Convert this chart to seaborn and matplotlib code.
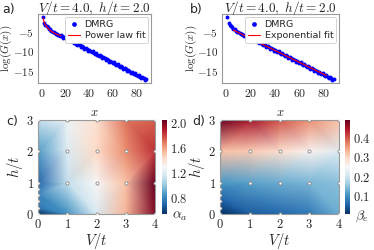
import numpy as np
import pandas as pd
import matplotlib
matplotlib.use("Agg")
import matplotlib.pyplot as plt
import matplotlib.tri as mtri
import seaborn as sns

# ---------------- data ----------------
x_sites = list(range(1, 89))
logG = [-1.3, -2.9, -3.2, -3.5, -3.9, -4.3, -4.4, -4.8, -5.0, -5.1,
        -5.4, -5.6, -5.6, -5.9, -6.0, -5.80, -6.16, -6.51, -6.27, -6.62,
        -6.98, -6.73, -7.09, -7.44, -7.20, -7.55, -7.91, -7.66, -8.02, -8.37,
        -8.13, -8.48, -8.84, -8.59, -8.95, -9.30, -9.06, -9.41, -9.77, -9.52,
        -9.88, -10.23, -9.99, -10.34, -10.70, -10.45, -10.81, -11.16, -10.92, -11.27,
        -11.63, -11.38, -11.74, -12.09, -11.85, -12.20, -12.56, -12.31, -12.67, -13.02,
        -12.78, -13.13, -13.49, -13.24, -13.60, -13.95, -13.71, -14.06, -14.42, -14.17,
        -14.53, -14.88, -14.64, -14.99, -15.35, -15.10, -15.46, -15.81, -15.57, -15.92,
        -16.28, -16.03, -16.39, -16.74, -16.50, -16.85, -17.21, -17.05]

pow_x = [1, 1.5, 2, 3, 4, 5, 6, 8, 10, 12, 14, 16]
pow_y = [-1.5, -2.2, -2.7, -3.3, -3.8, -4.1, -4.4, -4.9, -5.3, -5.6, -5.8, -6.0]

exp_x = [6, 82]
exp_y = [-4.6, -16.1]

# heatmap sample points
grid_V = [0, 1, 2, 3, 4, 0, 1, 2, 3, 4, 0, 1, 2, 3, 4, 0, 1, 2, 3, 4, 0, 0, 0, 0]
grid_h = [0, 0, 0, 0, 0, 1, 1, 1, 1, 1, 2, 2, 2, 2, 2, 3, 3, 3, 3, 3, 0.2, 0.4, 0.6, 0.8]
alpha_a = [0.55, 0.85, 1.18, 1.55, 2.00,
           0.70, 1.12, 1.30, 1.52, 2.05,
           0.88, 1.20, 1.45, 1.65, 1.85,
           1.12, 1.26, 1.42, 1.70, 1.75,
           0.75, 0.80, 0.80, 0.76]
beta_e = [0.01, 0.05, 0.06, 0.08, 0.13,
          0.11, 0.12, 0.13, 0.14, 0.15,
          0.32, 0.31, 0.29, 0.26, 0.22,
          0.49, 0.45, 0.40, 0.36, 0.32,
          0.03, 0.05, 0.07, 0.09]

title_txt = r"$V/t=4.0,\ h/t=2.0$"

# ---------------- style ----------------
sns.set_style("white")
plt.rcParams['font.family'] = ['DejaVu Sans']
plt.rcParams['mathtext.fontset'] = 'cm'
edge = '#999999'

W, H = 374, 250
fig = plt.figure(figsize=(W / 100, H / 100), dpi=100)

def rect(l, r, t, b):
    return [l / W, 1 - b / H, (r - l) / W, (b - t) / H]

ax_a = fig.add_axes(rect(38, 151, 14, 83))
ax_b = fig.add_axes(rect(222, 339, 14, 83))
ax_c = fig.add_axes(rect(38, 155, 120, 214))
cax_c = fig.add_axes(rect(162, 167, 120, 214))
ax_d = fig.add_axes(rect(220, 339, 120, 214))
cax_d = fig.add_axes(rect(345, 350, 120, 214))

df = pd.DataFrame({"x": x_sites, "logG": logG})

def mathfmt(vals, fmt="{:g}"):
    return [r"$" + fmt.format(v) + r"$" for v in vals]

for ax, fx, fy, lab, ylx in [(ax_a, pow_x, pow_y, "Power law fit", 14.5),
                             (ax_b, exp_x, exp_y, "Exponential fit", 198.5)]:
    sns.scatterplot(data=df, x="x", y="logG", ax=ax, color="blue", s=8,
                    linewidth=0, label="DMRG", zorder=2)
    sns.lineplot(x=fx, y=fy, ax=ax, color="red", linewidth=0.8,
                 label=lab, zorder=3)
    ax.set_xticks([0, 20, 40, 60, 80])
    ax.set_xticklabels(mathfmt([0, 20, 40, 60, 80]), fontsize=8.5)
    ax.set_yticks([-5, -10, -15])
    ax.set_yticklabels([r"$-5$", r"$-10$", r"$-15$"], fontsize=8)
    ax.set_xlabel(r"$x$", fontsize=9, labelpad=4)
    ax.set_ylabel(r"$\log(G(x))$", fontsize=8)
    pos = ax.get_position()
    ax.yaxis.set_label_coords((ylx / W - pos.x0) / pos.width, 0.5)
    ax.set_title(title_txt, fontsize=9.5, pad=1.5)
    ax.tick_params(length=2, pad=1, color=edge)
    for s in ax.spines.values():
        s.set_color(edge)
        s.set_linewidth(0.8)
    leg = ax.legend(loc="upper right", fontsize=6.8, handlelength=1.3,
                    borderpad=0.3, labelspacing=0.25, handletextpad=0.5,
                    borderaxespad=0.3, framealpha=1, markerscale=1.2)
    leg.get_frame().set_linewidth(0.6)

tri = mtri.Triangulation(grid_V, grid_h)
for ax, cax, vals, ticks, clab in [(ax_c, cax_c, alpha_a, [0.8, 1.2, 1.6, 2.0], r"$\alpha_a$"),
                                   (ax_d, cax_d, beta_e, [0.1, 0.2, 0.3, 0.4], r"$\beta_e$")]:
    tpc = ax.tripcolor(tri, vals, shading="gouraud", cmap="RdBu_r", rasterized=True)
    sns.scatterplot(x=grid_V, y=grid_h, ax=ax, s=5, color="white",
                    edgecolor="#888888", linewidth=0.6, zorder=3, clip_on=True)
    ax.set_xlim(0, 4)
    ax.set_ylim(0, 3)
    ax.set_xticks([0, 1, 2, 3, 4])
    ax.set_xticklabels(mathfmt([0, 1, 2, 3, 4]), fontsize=9)
    ax.set_yticks([0, 1, 2, 3])
    ax.set_yticklabels(mathfmt([0, 1, 2, 3]), fontsize=9)
    ax.set_xlabel(r"$V/t$", fontsize=10.5, labelpad=0)
    ax.set_ylabel(r"$h/t$", fontsize=10.5, labelpad=1)
    ax.tick_params(length=2, pad=1, color=edge)
    for s in ax.spines.values():
        s.set_color(edge)
        s.set_linewidth(0.8)
    cb = fig.colorbar(tpc, cax=cax, ticks=ticks)
    cb.ax.set_yticklabels(mathfmt(ticks, "{:.1f}"), fontsize=9)
    cb.ax.tick_params(length=0, pad=2)
    cb.outline.set_linewidth(0)
    cb.ax.text(2.0, -0.02, clab, transform=cb.ax.transAxes, fontsize=10,
               ha="left", va="center")

for txt, px, py in [("a)", 2, 10), ("b)", 190, 10), ("c)", 6, 122), ("d)", 192, 122)]:
    fig.text(px / W, 1 - py / H, txt, fontsize=9, ha="left", va="center")

fig.savefig("out.png", dpi=100)
